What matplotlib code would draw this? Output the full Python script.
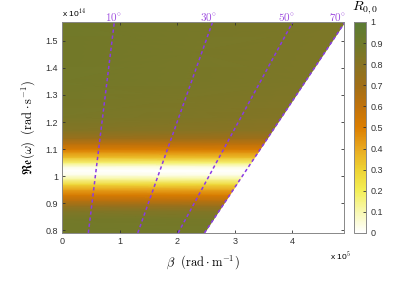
import numpy as np
import matplotlib
matplotlib.use("Agg")
import matplotlib.pyplot as plt
from matplotlib.colors import LinearSegmentedColormap

plt.rcParams['font.family'] = ['Liberation Sans', 'DejaVu Sans']
plt.rcParams['mathtext.fontset'] = 'cm'

# ---- data ----
omega = [0.79, 0.84, 0.87, 0.89, 0.91, 0.93, 0.95, 0.97, 0.99, 1.005, 1.02,
         1.035, 1.05, 1.07, 1.09, 1.10, 1.12, 1.14, 1.17, 1.22, 1.35, 1.57]  # x1e14 rad/s
R_theta0 = [0.89, 0.88, 0.83, 0.74, 0.62, 0.52, 0.42, 0.28, 0.12, 0.03, 0.0,
            0.04, 0.17, 0.35, 0.46, 0.52, 0.62, 0.73, 0.82, 0.86, 0.88, 0.89]
R_theta70 = [0.88, 0.87, 0.82, 0.73, 0.61, 0.51, 0.41, 0.27, 0.12, 0.03, 0.0,
             0.04, 0.17, 0.35, 0.46, 0.52, 0.61, 0.71, 0.79, 0.82, 0.84, 0.84]
theta_cols = [0.0, 70.0]          # degrees
light_angles = [10, 30, 50, 70]   # degrees
c = 3.0e8

cmap_colors = ['#ffffff', '#f8f8b0', '#f3ee55', '#eed232', '#e8a820', '#dc7e00',
               '#c0720c', '#a06f18', '#887424', '#6f7a2a', '#5b7b34']

# ---- figure ----
fig = plt.figure(figsize=(3.95, 2.89), dpi=100)
ax = fig.add_axes([0.157, 0.194, 0.714, 0.730])
cax = fig.add_axes([0.896, 0.194, 0.030, 0.730])

cmap = LinearSegmentedColormap.from_list('rc', cmap_colors)

W = np.array(omega) * 1e14
TH = np.radians(theta_cols)
Wg, THg = np.meshgrid(W, TH, indexing='ij')
Bg = Wg * np.sin(THg) / c
Rg = np.column_stack([R_theta0, R_theta70])

pc = ax.pcolormesh(Bg / 1e5, Wg / 1e14, Rg, shading='gouraud', cmap=cmap,
                   vmin=0, vmax=1, rasterized=True)

wl = np.array([0.79, 1.575]) * 1e14
lc = '#8a3ae6'
for a in light_angles:
    b = wl * np.sin(np.radians(a)) / c
    ax.plot(b / 1e5, wl / 1e14, ls=(0, (2.2, 1.8)), color=lc, lw=1.1)
    bt = 1.57e14 * np.sin(np.radians(a)) / c / 1e5
    ax.text(bt * 0.975, 1.568, r'$%d^{\circ}$' % a, color='#a050e0', fontsize=8,
            ha='center', va='bottom')

ax.set_xlim(0, 4.9)
ax.set_ylim(0.79, 1.57)
ax.set_xticks([0, 1, 2, 3, 4])
ax.set_yticks([0.8, 0.9, 1.0, 1.1, 1.2, 1.3, 1.4, 1.5])
ax.set_xticklabels(['0', '1', '2', '3', '4'])
ax.set_yticklabels(['0.8', '0.9', '1', '1.1', '1.2', '1.3', '1.4', '1.5'])
ax.tick_params(direction='in', length=2.5, width=0.6, labelsize=6.5,
               top=True, right=True, colors='#333333', pad=3)
for s in ax.spines.values():
    s.set_color('#888888')
    s.set_linewidth(0.7)

ax.set_xlabel(r'$\beta\ \ (\mathrm{rad}\cdot\mathrm{m}^{-1})$', fontsize=9, labelpad=5)
ax.set_ylabel(r'$\mathfrak{Re}(\omega)\ \ (\mathrm{rad}\cdot\mathrm{s}^{-1})$',
              fontsize=9, labelpad=6)

fig.text(0.157, 0.935, r'x 10$^{14}$', fontsize=6, ha='left', va='bottom')
fig.text(0.835, 0.095, r'x 10$^{5}$', fontsize=6, ha='left', va='bottom')

cb = fig.colorbar(pc, cax=cax)
cb.set_ticks(np.round(np.arange(0, 1.01, 0.1), 1))
cb.set_ticklabels(['0', '0.1', '0.2', '0.3', '0.4', '0.5', '0.6', '0.7', '0.8', '0.9', '1'])
cax.tick_params(direction='in', length=2, width=0.6, labelsize=6.5, colors='#333333')
cb.outline.set_edgecolor('#888888')
cb.outline.set_linewidth(0.7)
fig.text(0.925, 0.945, r'$R_{0,0}$', fontsize=10, ha='center', va='bottom')

fig.savefig('out.png', dpi=100)
